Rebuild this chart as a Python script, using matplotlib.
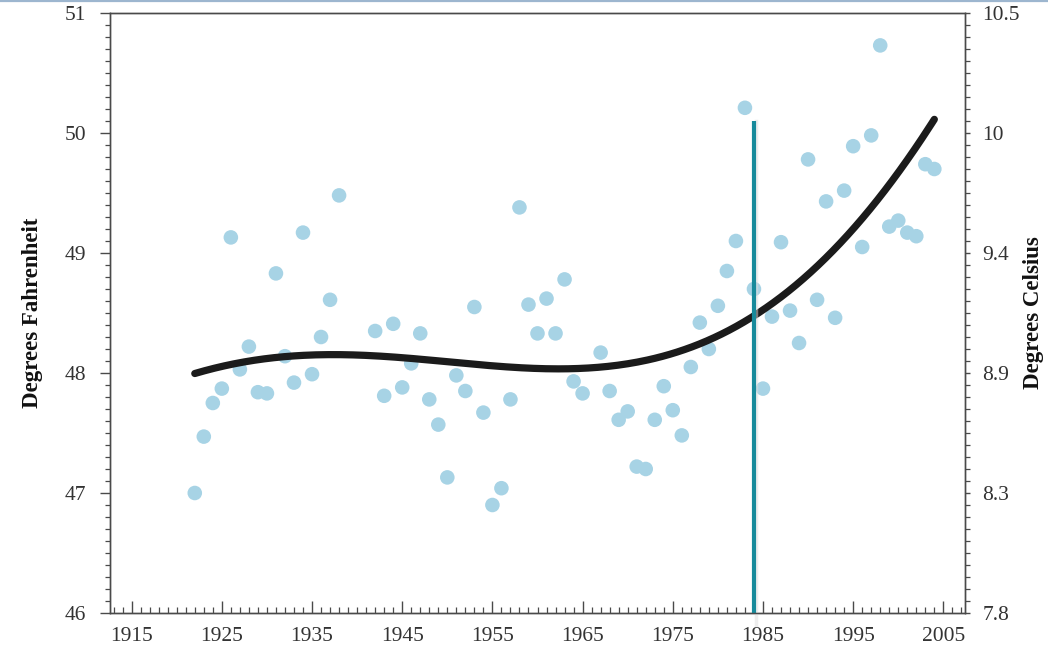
import numpy as np
import matplotlib
matplotlib.use("Agg")
import matplotlib.pyplot as plt
from matplotlib.lines import Line2D
from matplotlib.ticker import MultipleLocator, FixedLocator

# Annual mean temperature (degrees Fahrenheit)
years = [1922, 1923, 1924, 1925, 1926, 1927, 1928, 1929, 1930, 1931,
         1932, 1933, 1934, 1935, 1936, 1937, 1938,
         1942, 1943, 1944, 1945, 1946, 1947, 1948, 1949, 1950,
         1951, 1952, 1953, 1954, 1955, 1956, 1957, 1958, 1959, 1960,
         1961, 1962, 1963, 1964, 1965, 1967, 1968, 1969, 1970,
         1971, 1972, 1973, 1974, 1975, 1976, 1977, 1978, 1979, 1980,
         1981, 1982, 1983, 1984, 1985, 1986, 1987, 1988, 1989, 1990,
         1991, 1992, 1993, 1994, 1995, 1996, 1997, 1998, 1999, 2000,
         2001, 2002, 2003, 2004]
temps_f = [47.00, 47.47, 47.75, 47.87, 49.13, 48.03, 48.22, 47.84, 47.83, 48.83,
           48.14, 47.92, 49.17, 47.99, 48.30, 48.61, 49.48,
           48.35, 47.81, 48.41, 47.88, 48.08, 48.33, 47.78, 47.57, 47.13,
           47.98, 47.85, 48.55, 47.67, 46.90, 47.04, 47.78, 49.38, 48.57, 48.33,
           48.62, 48.33, 48.78, 47.93, 47.83, 48.17, 47.85, 47.61, 47.68,
           47.22, 47.20, 47.61, 47.89, 47.69, 47.48, 48.05, 48.42, 48.20, 48.56,
           48.85, 49.10, 50.21, 48.70, 47.87, 48.47, 49.09, 48.52, 48.25, 49.78,
           48.61, 49.43, 48.46, 49.52, 49.89, 49.05, 49.98, 50.73, 49.22, 49.27,
           49.17, 49.14, 49.74, 49.70]

# Smoothed trend
trend_years = [1922, 1928, 1935, 1942, 1948, 1955, 1961, 1966, 1970,
               1976, 1980, 1984, 1989, 1993, 1997, 2000, 2004]
trend_f = [47.99, 48.11, 48.15, 48.14, 48.10, 48.06, 48.03, 48.05, 48.09,
           48.19, 48.32, 48.46, 48.75, 48.99, 49.42, 49.70, 50.09]

marker_year = 1984
marker_top = 50.1

x_ticks = [1915, 1925, 1935, 1945, 1955, 1965, 1975, 1985, 1995, 2005]
f_ticks = [46, 47, 48, 49, 50, 51]
c_labels = ["7.8", "8.3", "8.9", "9.4", "10", "10.5"]

AXIS_COLOR = "#4a4a4a"
TEXT_COLOR = "#333333"
serif = ["Liberation Serif", "DejaVu Serif"]
TICK_SIZE = 15.5

plt.rcParams["font.family"] = serif
plt.rcParams["xtick.labelsize"] = TICK_SIZE
plt.rcParams["ytick.labelsize"] = TICK_SIZE

fig = plt.figure(figsize=(10.48, 6.58), dpi=100)
ax = fig.add_axes([110 / 1048, 1 - 613 / 658, 855 / 1048, 600 / 658])

ax.scatter(years, temps_f, s=110, color="#a7d3e5", edgecolors="none", zorder=2)

# trend curve
coef = np.polyfit(np.array(trend_years) - 1960, trend_f, 5)
tx = np.linspace(trend_years[0], trend_years[-1], 300)
ax.plot(tx, np.polyval(coef, tx - 1960), color="#1b1b1b", lw=5.2,
        solid_capstyle="round", zorder=3)

# vertical marker with soft shadow
ax.plot([marker_year + 0.25, marker_year + 0.25], [45.9, marker_top],
        color="#dcdcdc", lw=2.5, alpha=0.5, zorder=3, clip_on=False)
ax.plot([marker_year, marker_year], [46, marker_top], color="#178a9b",
        lw=3.0, zorder=4, solid_capstyle="butt")

ax.set_xlim(1912.6, 2007.4)
ax.set_ylim(46, 51)

for s in ax.spines.values():
    s.set_color(AXIS_COLOR)
    s.set_linewidth(1.0)

ax.xaxis.set_major_locator(FixedLocator(x_ticks))
ax.xaxis.set_minor_locator(MultipleLocator(1))
ax.set_xticklabels([str(v) for v in x_ticks], fontsize=TICK_SIZE)
ax.tick_params(axis="x", which="major", direction="in", length=8.5, width=1.0,
               color=AXIS_COLOR, labelcolor=TEXT_COLOR, pad=10)
ax.tick_params(axis="x", which="minor", direction="in", length=4.5, width=0.9,
               color=AXIS_COLOR)

ax.yaxis.set_major_locator(FixedLocator(f_ticks))
ax.yaxis.set_minor_locator(MultipleLocator(0.1))
ax.set_yticklabels([str(v) for v in f_ticks], fontsize=TICK_SIZE)
ax.tick_params(axis="y", which="major", direction="out", length=7, width=1.0,
               color=AXIS_COLOR, labelcolor=TEXT_COLOR, pad=10)
ax.tick_params(axis="y", which="minor", direction="out", length=3.5, width=0.9,
               color=AXIS_COLOR)

ax.set_ylabel("Degrees Fahrenheit", fontsize=16.5,
              fontweight="bold", color="#111111", labelpad=16)

# Celsius scale on the right
ax2 = ax.twinx()
ax2.set_ylim(46, 51)
ax2.yaxis.set_major_locator(FixedLocator(f_ticks))
ax2.yaxis.set_minor_locator(MultipleLocator(0.1))
ax2.set_yticklabels(c_labels, fontsize=TICK_SIZE)
ax2.tick_params(axis="y", which="major", direction="out", length=3.5, width=1.0,
                color=AXIS_COLOR, labelcolor=TEXT_COLOR, pad=9)
ax2.tick_params(axis="y", which="minor", direction="out", length=3.5, width=0.9,
                color=AXIS_COLOR)
for s in ax2.spines.values():
    s.set_color(AXIS_COLOR)
    s.set_linewidth(1.0)
ax2.set_ylabel("Degrees Celsius", fontsize=16.5,
               fontweight="bold", color="#111111", labelpad=2)

# thin header rule
fig.add_artist(Line2D([0, 1], [0.9985, 0.9985], transform=fig.transFigure,
                      color="#9db6cf", lw=1.6))

fig.savefig("out.png", dpi=100, facecolor="white")
